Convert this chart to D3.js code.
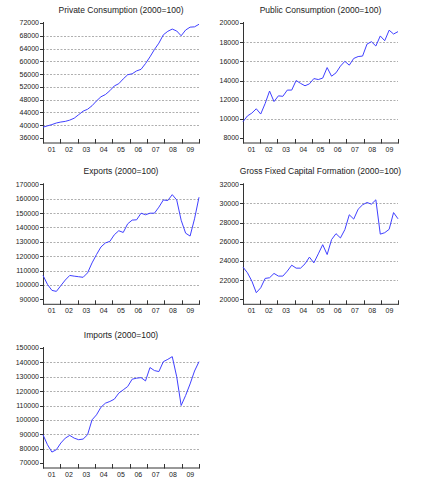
<!DOCTYPE html>
<html><head><meta charset="utf-8">
<script src="https://cdn.jsdelivr.net/npm/d3@7"></script>
<style>
body{margin:0;background:#fff}
svg{display:block}
text{font-family:"Liberation Sans",Arial,sans-serif;fill:#222}
</style>
</head><body>
<svg id="c" width="436" height="480"></svg>
<script>
const yearLabels = ["01","02","03","04","05","06","07","08","09"];

const privateConsumption = [39400,39800,40200,40700,41000,41200,41600,42200,43300,44400,45000,46100,
  47600,48900,49600,50800,52300,53000,54500,55800,56100,57000,57500,59300,
  61400,63700,65700,68300,69400,70100,69500,68000,69800,70700,70800,71600];
const publicConsumption = [9700,10300,10600,11050,10500,11600,12900,11800,12400,12350,13000,13000,
  14000,13700,13450,13650,14200,14100,14250,15350,14450,14800,15500,16000,
  15600,16300,16500,16550,17800,18050,17600,18650,18150,19250,18850,19100];
const exportsData = [106600,100400,96200,95500,99500,103400,106600,106100,105700,105300,108400,115300,
  121100,126400,129200,130300,134900,137700,136500,142500,145100,145300,149900,148800,
  149900,149900,154100,159100,158700,162800,159100,145000,136000,134000,146000,161000];
const gfcfData = [23360,22770,21900,20690,21200,22180,22250,22700,22420,22420,22940,23560,
  23250,23250,23700,24400,23800,24740,25700,24670,26230,26850,26400,27270,
  28820,28370,29400,29860,30100,29930,30380,26800,26950,27300,29050,28400];
const importsData = [89650,82700,77600,79250,83900,87300,89200,87300,86200,86650,89650,100000,
  103500,108800,111600,112800,114400,118600,120900,123200,128300,129000,129400,127100,
  136400,134300,133600,140500,142100,144000,130000,110000,117000,125000,134000,140500];

const privTicks = [36000,40000,44000,48000,52000,56000,60000,64000,68000,72000];
const pubTicks = [8000,10000,12000,14000,16000,18000,20000];
const expTicks = [90000,100000,110000,120000,130000,140000,150000,160000,170000];
const gfcfTicks = [20000,22000,24000,26000,28000,30000,32000];
const impTicks = [70000,80000,90000,100000,110000,120000,130000,140000,150000];

const titles = ["Private Consumption (2000=100)","Public Consumption (2000=100)",
  "Exports (2000=100)","Gross Fixed Capital Formation (2000=100)","Imports (2000=100)"];

const panels = [
  {title:titles[0], values:privateConsumption, ticks:privTicks, col:0, row:0},
  {title:titles[1], values:publicConsumption, ticks:pubTicks, col:1, row:0},
  {title:titles[2], values:exportsData, ticks:expTicks, col:0, row:1},
  {title:titles[3], values:gfcfData, ticks:gfcfTicks, col:1, row:1},
  {title:titles[4], values:importsData, ticks:impTicks, col:0, row:2}
];

const colX = [[43,199],[243,398]];
const rowTop = [23,184.3,348];
const plotH = 115;
const axisGap = 4.5;

const svg = d3.select("#c");

panels.forEach(p => {
  const [x0,x1] = colX[p.col];
  const top = rowTop[p.row];
  const bottom = top + plotH;
  const yb = bottom + axisGap;
  const g = svg.append("g");

  const y = d3.scaleLinear().domain([p.ticks[0], p.ticks[p.ticks.length-1]]).range([bottom, top]);
  const xq = d3.scaleLinear().domain([0, p.values.length-1]).range([x0, x1]);
  const xy = d3.scaleLinear().domain([0, yearLabels.length]).range([x0, x1]);

  g.selectAll(".grid").data(p.ticks.slice(1,-1)).enter().append("line")
    .attr("x1", x0).attr("x2", x1)
    .attr("y1", d => Math.round(y(d))+0.5).attr("y2", d => Math.round(y(d))+0.5)
    .attr("stroke", "#9a9a9a").attr("stroke-width", 0.8).attr("stroke-dasharray", "2,1.5");

  g.append("line").attr("x1", x0+0.5).attr("x2", x0+0.5).attr("y1", top-1).attr("y2", yb)
    .attr("stroke", "#333").attr("stroke-width", 1);
  g.selectAll(".yt").data(p.ticks).enter().append("line")
    .attr("x1", x0-3).attr("x2", x0)
    .attr("y1", d => Math.round(y(d))+0.5).attr("y2", d => Math.round(y(d))+0.5)
    .attr("stroke", "#333").attr("stroke-width", 1);
  g.selectAll(".yl").data(p.ticks).enter().append("text")
    .attr("x", x0-4).attr("y", d => y(d)).attr("dy", "0.35em")
    .attr("text-anchor", "end").attr("font-size", "7px")
    .text(d => d);

  g.append("line").attr("x1", x0).attr("x2", x1+0.5).attr("y1", yb+0.5).attr("y2", yb+0.5)
    .attr("stroke", "#333").attr("stroke-width", 1);
  g.selectAll(".xt").data(d3.range(yearLabels.length+1)).enter().append("line")
    .attr("x1", d => Math.round(xy(d))+0.5).attr("x2", d => Math.round(xy(d))+0.5)
    .attr("y1", yb-3.5).attr("y2", yb+1)
    .attr("stroke", "#333").attr("stroke-width", 1);
  g.selectAll(".xl").data(yearLabels).enter().append("text")
    .attr("x", (d,i) => xy(i+0.5)).attr("y", yb+9)
    .attr("text-anchor", "middle").attr("font-size", "7px")
    .text(d => d);

  g.append("path").datum(p.values)
    .attr("fill", "none").attr("stroke", "#4040ff").attr("stroke-width", 1)
    .attr("stroke-linejoin", "round")
    .attr("d", d3.line().x((d,i) => xq(i)).y(d => y(d)));

  g.append("text").attr("x", (x0+x1)/2).attr("y", top-10)
    .attr("text-anchor", "middle").attr("font-size", "8.5px")
    .text(p.title);
});
</script>
</body></html>
